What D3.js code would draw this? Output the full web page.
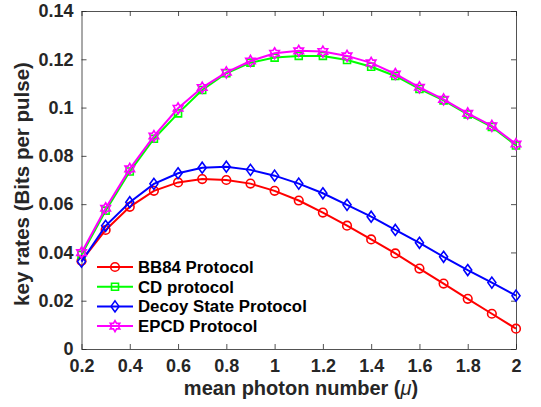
<!DOCTYPE html>
<html>
<head>
<meta charset="utf-8">
<script src="https://cdn.jsdelivr.net/npm/d3@7"></script>
<style>
  html, body { margin: 0; padding: 0; background: #fff; }
  svg { display: block; font-family: "Liberation Sans", Arial, sans-serif; }
</style>
</head>
<body>
<div id="chart"></div>
<script>
// Data
const mu = [0.2, 0.3, 0.4, 0.5, 0.6, 0.7, 0.8, 0.9, 1.0, 1.1, 1.2, 1.3, 1.4, 1.5, 1.6, 1.7, 1.8, 1.9, 2.0];
const bb84 = [0.0365, 0.0493, 0.0589, 0.0655, 0.0690, 0.0704, 0.0700, 0.0685, 0.0655, 0.0615, 0.0565, 0.0511, 0.0454, 0.0396, 0.0333, 0.0271, 0.0208, 0.0146, 0.0084];
const cd = [0.0390, 0.0573, 0.0735, 0.0871, 0.0976, 0.1073, 0.1142, 0.1186, 0.1207, 0.1214, 0.1214, 0.1197, 0.1169, 0.1131, 0.1077, 0.1030, 0.0972, 0.0920, 0.0843];
const decoy = [0.0362, 0.0510, 0.0608, 0.0684, 0.0728, 0.0751, 0.0755, 0.0742, 0.0718, 0.0685, 0.0645, 0.0597, 0.0548, 0.0493, 0.0440, 0.0382, 0.0327, 0.0275, 0.0221];
const epcd = [0.0399, 0.0583, 0.0746, 0.0882, 0.0997, 0.1083, 0.1146, 0.1193, 0.1225, 0.1235, 0.1232, 0.1214, 0.1185, 0.1139, 0.1084, 0.1034, 0.0976, 0.0924, 0.0849];
const seriesNames = ["BB84 Protocol", "CD protocol", "Decoy State Protocol", "EPCD Protocol"];
const xTicks = [0.2, 0.4, 0.6, 0.8, 1, 1.2, 1.4, 1.6, 1.8, 2];
const yTicks = [0, 0.02, 0.04, 0.06, 0.08, 0.1, 0.12, 0.14];

const W = 541, H = 407;
const m = { left: 81.5, right: 25, top: 11, bottom: 58 };
const iw = W - m.left - m.right, ih = H - m.top - m.bottom;
const axisColor = "#262626";

const series = [
  { name: seriesNames[0], values: bb84, color: "#ff0000", marker: "circle" },
  { name: seriesNames[1], values: cd, color: "#00ff00", marker: "square" },
  { name: seriesNames[2], values: decoy, color: "#0000ff", marker: "diamond" },
  { name: seriesNames[3], values: epcd, color: "#ff00ff", marker: "hexagram" }
];

const svg = d3.select("#chart").append("svg").attr("width", W).attr("height", H);
const g = svg.append("g").attr("transform", `translate(${m.left},${m.top})`);

const x = d3.scaleLinear().domain([0.2, 2]).range([0, iw]);
const y = d3.scaleLinear().domain([0, 0.14]).range([ih, 0]);

// Axes (ticks inside, MATLAB style box)
const fmt = (d) => String(+d.toFixed(2));
const xAxis = g.append("g").attr("transform", `translate(0,${ih})`)
  .call(d3.axisBottom(x).tickValues(xTicks).tickFormat(fmt).tickSizeInner(-5).tickSizeOuter(0).tickPadding(10));
const yAxis = g.append("g")
  .call(d3.axisLeft(y).tickValues(yTicks).tickFormat(fmt).tickSizeInner(-5).tickSizeOuter(0).tickPadding(8));
const xTop = g.append("g")
  .call(d3.axisTop(x).tickValues(xTicks).tickFormat("").tickSizeInner(-5).tickSizeOuter(0));
const yRight = g.append("g").attr("transform", `translate(${iw},0)`)
  .call(d3.axisRight(y).tickValues(yTicks).tickFormat("").tickSizeInner(-5).tickSizeOuter(0));

[xAxis, yAxis, xTop, yRight].forEach((a) => {
  a.select(".domain").attr("stroke", axisColor).attr("stroke-width", 0.8);
  a.selectAll(".tick line").attr("stroke", axisColor).attr("stroke-width", 0.8);
  a.selectAll(".tick text").attr("fill", axisColor).attr("font-size", 18).attr("font-weight", "bold")
    .attr("font-family", "Liberation Sans, Arial, sans-serif");
});

// Axis labels
svg.append("text")
  .attr("x", 301).attr("y", 395)
  .attr("text-anchor", "middle").attr("font-size", 20).attr("font-weight", "bold").attr("fill", axisColor)
  .html('mean photon number (<tspan font-style="italic" font-weight="normal">μ</tspan>)');
svg.append("text")
  .attr("transform", `translate(29,184) rotate(-90)`)
  .attr("text-anchor", "middle").attr("font-size", 20.5).attr("font-weight", "bold").attr("fill", axisColor)
  .text("key rates (Bits per pulse)");

// Marker paths
function hexagram(r) {
  const pts = [];
  for (let i = 0; i < 12; i++) {
    const a = -Math.PI / 2 + i * Math.PI / 6;
    const rr = i % 2 === 0 ? r : r * 0.577;
    pts.push([Math.cos(a) * rr, Math.sin(a) * rr]);
  }
  return "M" + pts.map((p) => p.join(",")).join("L") + "Z";
}
function markerPath(type) {
  if (type === "circle") return d3.symbol().type(d3.symbolCircle).size(Math.PI * 4.3 * 4.3)();
  if (type === "square") return d3.symbol().type(d3.symbolSquare).size(7 * 7)();
  if (type === "diamond") return "M0,-5.5L4,0L0,5.5L-4,0Z";
  return hexagram(5.5);
}

const line = d3.line().x((d, i) => x(mu[i])).y((d) => y(d));

series.forEach((s) => {
  g.append("path").datum(s.values)
    .attr("fill", "none").attr("stroke", s.color).attr("stroke-width", 2).attr("d", line);
  g.append("g").selectAll("path").data(s.values).join("path")
    .attr("transform", (d, i) => `translate(${x(mu[i])},${y(d)})`)
    .attr("d", markerPath(s.marker))
    .attr("fill", "none").attr("stroke", s.color).attr("stroke-width", 1.6);
});

// Legend
const legend = svg.append("g").attr("transform", "translate(97,267)");
series.forEach((s, i) => {
  const row = legend.append("g").attr("transform", `translate(0,${i * 19.7})`);
  row.append("line").attr("x1", 0).attr("x2", 36).attr("y1", 0).attr("y2", 0)
    .attr("stroke", s.color).attr("stroke-width", 2);
  row.append("path").attr("transform", "translate(18,0)").attr("d", markerPath(s.marker))
    .attr("fill", "none").attr("stroke", s.color).attr("stroke-width", 1.6);
  row.append("text").attr("x", 41).attr("y", 6).attr("font-size", 16.8).attr("font-weight", "bold")
    .attr("fill", "#000").text(s.name);
});
</script>
</body>
</html>
